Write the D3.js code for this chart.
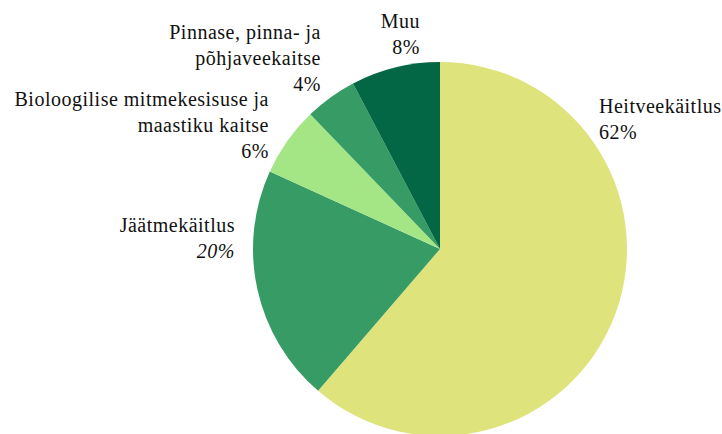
<!DOCTYPE html>
<html>
<head>
<meta charset="utf-8">
<script src="https://cdn.jsdelivr.net/npm/d3@7/dist/d3.min.js"></script>
</head>
<body style="margin:0">
<svg id="chart" width="722" height="434"></svg>
<script>
// Data (clockwise from 12 o'clock)
const categories = [
  ["Heitveekäitlus"],
  ["Jäätmekäitlus"],
  ["Bioloogilise mitmekesisuse ja", "maastiku kaitse"],
  ["Pinnase, pinna- ja", "põhjaveekaitse"],
  ["Muu"]
];
const shares = [61.3, 20.5, 6.0, 4.5, 7.7];
const percentLabels = ["62%", "20%", "6%", "4%", "8%"];
const colors = ["#dee37b", "#369b65", "#a4e586", "#369b65", "#036645"];

// Layout
const cx = 440, cy = 249, R = 187;
const lineH = 26;
const FONT = "'Liberation Serif', 'Times New Roman', Tinos, serif";
// label anchor: [x, y of first baseline, text-anchor]
const labelLayout = [
  [599, 113, "start"],
  [235, 232, "end"],
  [269, 106, "end"],
  [321, 39, "end"],
  [420, 28, "end"]
];

const svg = d3.select("#chart");
const g = svg.append("g").attr("transform", `translate(${cx},${cy})`);

const pie = d3.pie().sort(null).value(d => d).startAngle(0).endAngle(2 * Math.PI);
const arc = d3.arc().innerRadius(0).outerRadius(R);

g.selectAll("path")
  .data(pie(shares))
  .join("path")
  .attr("d", arc)
  .attr("fill", (d, i) => colors[i]);

categories.forEach((lines, i) => {
  const [x, y, anchor] = labelLayout[i];
  const all = lines.concat([percentLabels[i]]);
  all.forEach((s, j) => {
    const t = svg.append("text")
      .attr("x", x)
      .attr("y", y + j * lineH)
      .attr("text-anchor", anchor)
      .attr("font-family", FONT)
      .attr("font-size", 20)
      .style("font-family", FONT, "important")
      .style("font-size", "20px", "important")
      .style("letter-spacing", "0.5px")
      .attr("fill", "#111")
      .text(s);
    if (i === 1 && j === all.length - 1) t.style("font-style", "italic");
  });
});
</script>
</body>
</html>
